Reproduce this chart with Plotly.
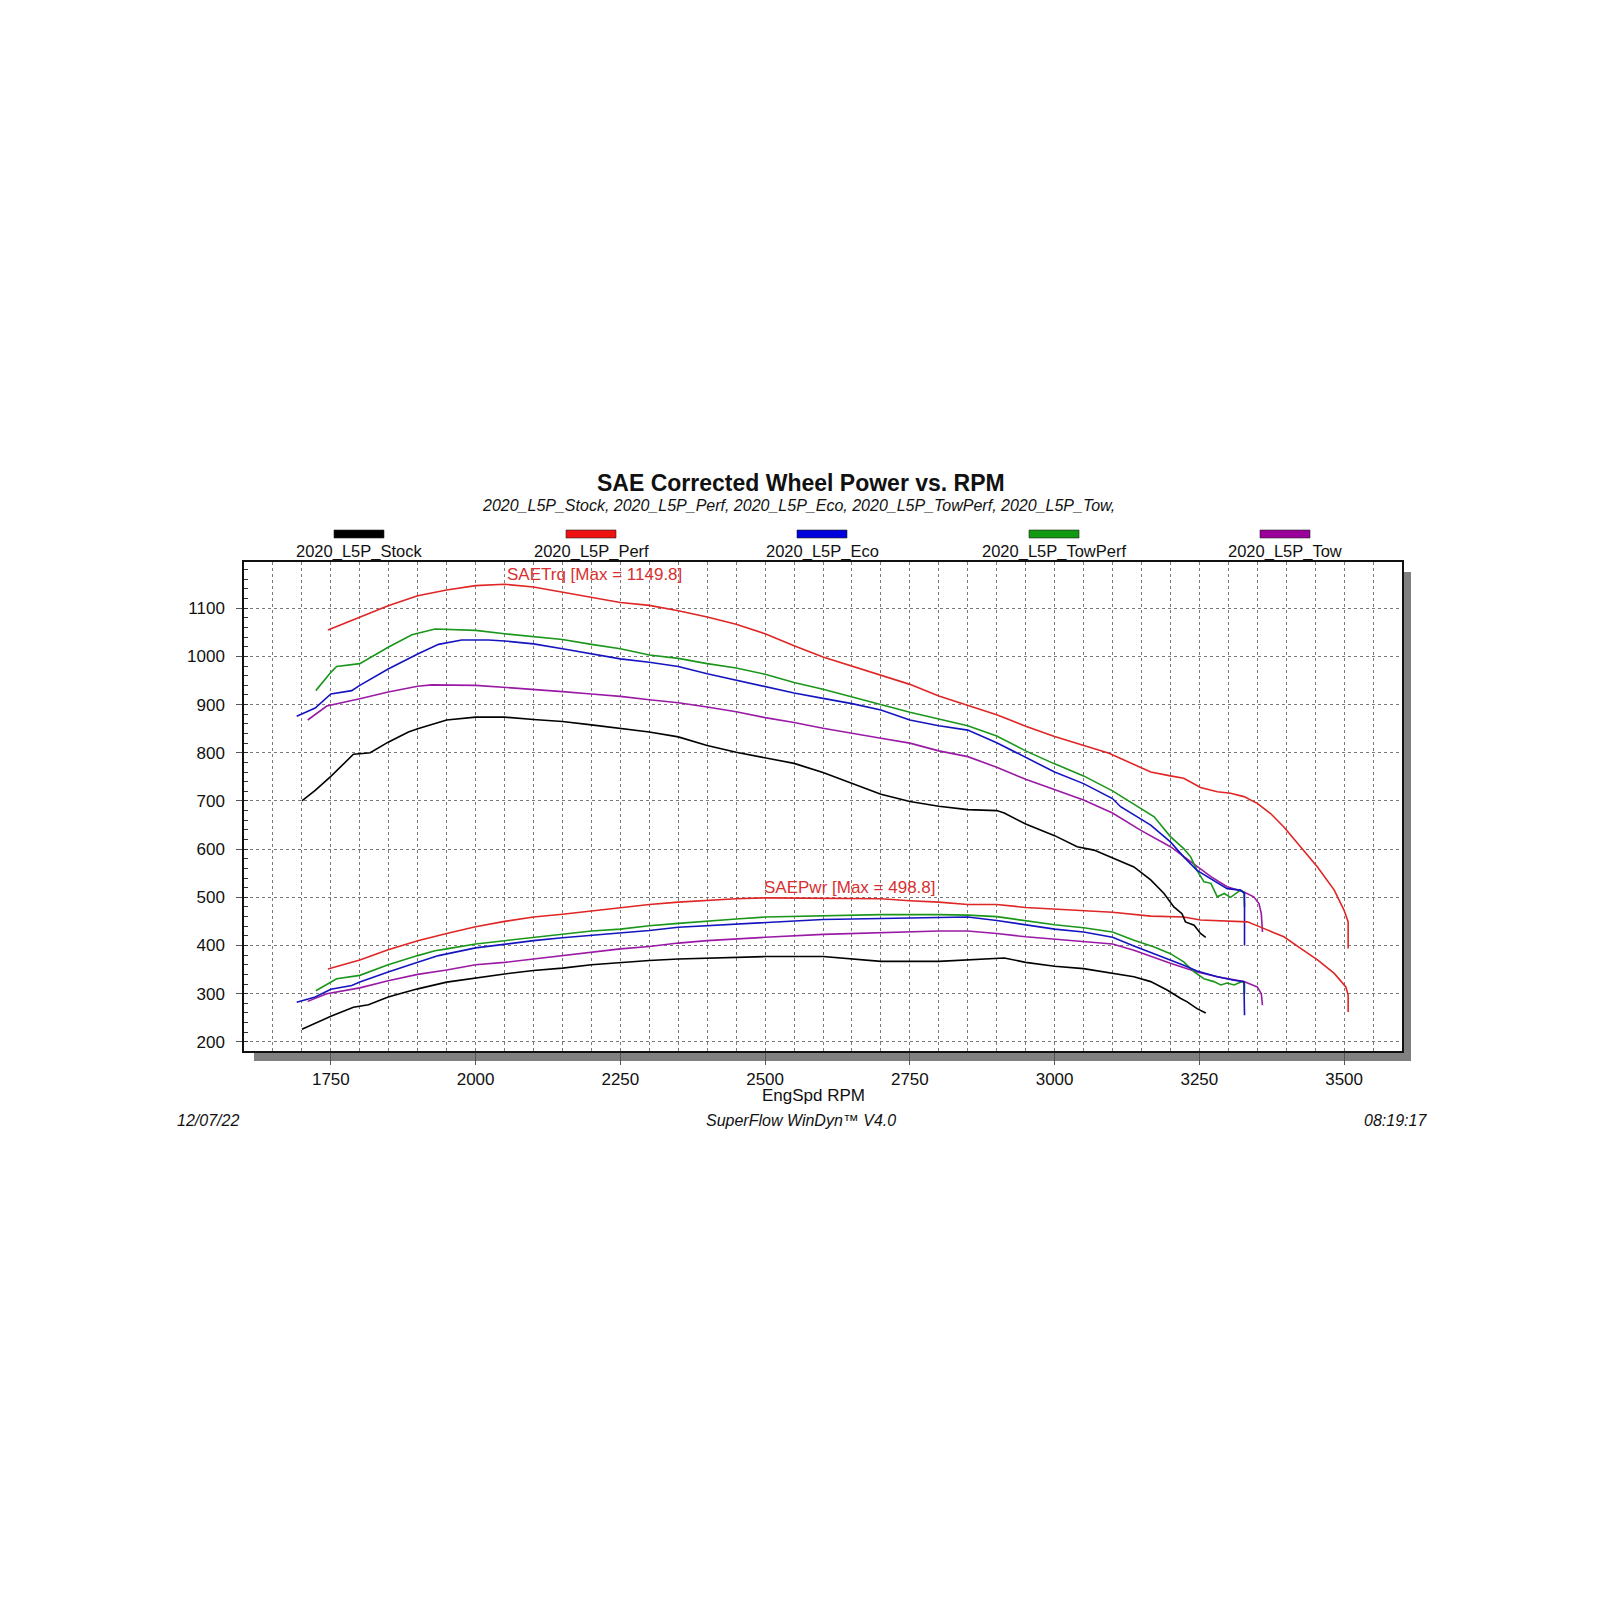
import plotly.graph_objects as go

# --- data (RPM vs SAE torque / power) ---
stock_trq_rpm = [1700, 1723, 1750, 1789, 1800, 1818, 1849, 1884, 1900, 1950, 2000, 2050, 2100, 2150, 2200,
                 2250, 2300, 2350, 2400, 2450, 2500, 2550, 2600, 2650, 2700, 2750, 2800, 2850, 2900, 2913,
                 2950, 3000, 3039, 3068, 3097, 3137, 3166, 3189, 3206, 3220, 3226, 3241, 3252, 3261]
stock_trq = [700, 722, 751, 797, 798, 800, 822, 843, 850, 868, 874, 874, 869, 865, 858,
             851, 843, 833, 815, 801, 790, 778, 759, 736, 714, 699, 689, 682, 680, 675,
             652, 628, 605, 598, 584, 563, 536, 508, 480, 466, 449, 442, 425, 417]
stock_pwr_rpm = [1700, 1750, 1789, 1815, 1849, 1900, 1950, 2000, 2050, 2100, 2150, 2200, 2250, 2300, 2350,
                 2400, 2450, 2500, 2600, 2650, 2700, 2800, 2850, 2913, 2950, 3000, 3050, 3085, 3137, 3166,
                 3195, 3218, 3229, 3246, 3261]
stock_pwr = [226, 253, 272, 277, 293, 310, 324, 333, 341, 348, 353, 360, 365, 369, 372,
             374, 376, 377, 377, 372, 367, 367, 370, 374, 365, 357, 352, 345, 335, 325,
             307, 290, 283, 269, 260]

perf_trq_rpm = [1745, 1798, 1849, 1900, 1950, 2000, 2050, 2100, 2150, 2200, 2250, 2300, 2350, 2400, 2450,
                2500, 2550, 2600, 2650, 2700, 2750, 2800, 2850, 2900, 2950, 3000, 3094, 3166, 3200, 3223,
                3252, 3281, 3304, 3327, 3350, 3373, 3396, 3425, 3454, 3483, 3500, 3507, 3507]
perf_trq = [1055, 1081, 1105, 1126, 1138, 1147, 1149.8, 1144, 1133, 1123, 1112, 1106, 1095, 1082, 1067,
            1047, 1022, 999, 980, 961, 942, 918, 898, 879, 855, 834, 799, 760, 752, 747,
            728, 719, 716, 709, 695, 674, 646, 605, 563, 515, 473, 449, 394]
perf_pwr_rpm = [1745, 1800, 1849, 1900, 1950, 2000, 2050, 2100, 2150, 2200, 2250, 2300, 2350, 2400, 2450,
                2500, 2600, 2700, 2750, 2800, 2850, 2900, 2950, 3000, 3050, 3100, 3166, 3223, 3252, 3304,
                3333, 3362, 3396, 3425, 3454, 3483, 3503, 3507, 3507]
perf_pwr = [351, 370, 391, 410, 425, 439, 450, 459, 465, 472, 479, 485, 490, 494, 497,
            498.8, 498, 497, 493, 490, 485, 485, 479, 476, 472, 469, 461, 459, 453, 451,
            449, 435, 418, 394, 370, 342, 314, 297, 262]

eco_trq_rpm = [1691, 1723, 1750, 1786, 1800, 1849, 1900, 1936, 1976, 2022, 2050, 2100, 2150, 2200, 2250,
               2300, 2350, 2400, 2450, 2500, 2550, 2600, 2650, 2700, 2750, 2800, 2850, 2900, 2950, 3000,
               3050, 3100, 3114, 3137, 3166, 3200, 3223, 3246, 3270, 3298, 3321, 3328, 3328]
eco_trq = [876, 893, 922, 929, 940, 974, 1005, 1025, 1034, 1034, 1032, 1026, 1016, 1005, 995,
           988, 979, 964, 951, 937, 924, 913, 902, 889, 868, 856, 847, 821, 790, 760,
           736, 705, 688, 671, 650, 615, 584, 556, 539, 518, 515, 508, 400]
eco_pwr_rpm = [1691, 1723, 1750, 1786, 1800, 1849, 1900, 1936, 2000, 2050, 2100, 2150, 2200, 2250, 2300,
               2350, 2400, 2450, 2500, 2600, 2700, 2800, 2850, 2900, 2950, 3000, 3050, 3100, 3137, 3172,
               3223, 3246, 3281, 3310, 3327, 3328]
eco_pwr = [282, 293, 309, 317, 324, 345, 365, 379, 395, 403, 410, 416, 421, 425, 431,
           438, 441, 445, 447, 454, 456, 457, 459, 452, 443, 434, 428, 417, 399, 383,
           359, 347, 335, 328, 325, 255]

towperf_trq_rpm = [1724, 1750, 1760, 1800, 1849, 1890, 1930, 1970, 2000, 2050, 2100, 2150, 2200, 2250, 2300,
                   2350, 2400, 2450, 2500, 2550, 2600, 2650, 2700, 2750, 2800, 2850, 2900, 2950, 3000, 3050,
                   3100, 3149, 3172, 3200, 3223, 3235, 3246, 3258, 3270, 3281, 3293, 3304, 3321, 3327, 3328]
towperf_trq = [929, 967, 979, 985, 1019, 1045, 1057, 1056, 1054, 1047, 1041, 1035, 1025, 1016, 1003,
               996, 985, 976, 963, 946, 932, 916, 901, 884, 870, 856, 835, 804, 777, 752,
               721, 684, 667, 626, 601, 584, 556, 532, 529, 501, 508, 500, 515, 511, 480]
towperf_pwr_rpm = [1724, 1760, 1800, 1849, 1900, 1930, 1950, 2000, 2050, 2100, 2150, 2200, 2250, 2300, 2350,
                   2400, 2450, 2500, 2600, 2700, 2800, 2850, 2900, 2950, 3000, 3050, 3100, 3137, 3172, 3200,
                   3223, 3241, 3258, 3275, 3287, 3298, 3310, 3324, 3328, 3328]
towperf_pwr = [306, 331, 338, 360, 379, 389, 393, 403, 410, 417, 424, 430, 434, 441, 446,
               451, 455, 459, 462, 464, 464, 463, 460, 452, 443, 437, 428, 411, 397, 383,
               366, 345, 331, 325, 318, 322, 318, 325, 322, 300]

tow_trq_rpm = [1710, 1743, 1800, 1849, 1900, 1924, 2000, 2050, 2100, 2150, 2200, 2250, 2300, 2350, 2400,
               2450, 2500, 2550, 2600, 2650, 2700, 2750, 2800, 2850, 2900, 2950, 3000, 3050, 3100, 3149,
               3200, 3246, 3270, 3298, 3327, 3344, 3353, 3357, 3359]
tow_trq = [868, 897, 912, 926, 938, 941, 940, 936, 931, 927, 922, 917, 910, 904, 895,
           885, 873, 863, 851, 840, 830, 820, 804, 792, 770, 745, 724, 702, 675, 639,
           605, 563, 543, 522, 511, 501, 487, 466, 428]
tow_pwr_rpm = [1710, 1743, 1800, 1849, 1900, 1950, 2000, 2050, 2100, 2150, 2200, 2250, 2300, 2350, 2400,
               2450, 2500, 2600, 2700, 2800, 2850, 2900, 2950, 3000, 3050, 3100, 3137, 3200, 3246, 3281,
               3327, 3350, 3357, 3359]
tow_pwr = [284, 300, 312, 327, 340, 349, 360, 365, 372, 379, 387, 393, 398, 405, 410,
           414, 417, 423, 427, 430, 430, 425, 418, 413, 408, 403, 390, 363, 345, 335,
           325, 314, 300, 276]

run_names = ["2020_L5P_Stock", "2020_L5P_Perf", "2020_L5P_Eco", "2020_L5P_TowPerf", "2020_L5P_Tow"]
line_colors = ["#000000", "#e02525", "#1515c0", "#1a961a", "#9a1aa6"]
bar_colors = ["#000000", "#ee1111", "#0000dd", "#119911", "#990099"]

runs = [
    (stock_trq_rpm, stock_trq, stock_pwr_rpm, stock_pwr),
    (perf_trq_rpm, perf_trq, perf_pwr_rpm, perf_pwr),
    (eco_trq_rpm, eco_trq, eco_pwr_rpm, eco_pwr),
    (towperf_trq_rpm, towperf_trq, towperf_pwr_rpm, towperf_pwr),
    (tow_trq_rpm, tow_trq, tow_pwr_rpm, tow_pwr),
]

FONT = "Liberation Sans, Arial, sans-serif"

# page geometry (pixels); everything was measured then nudged by DX/DY
DX, DY = -7, -8
L, R, T, B = 243 + DX, 1401 + DX, 562 + DY, 1051 + DY
PW, PH = R - L, B - T


def px(x):
    return (x + DX - L) / PW


def py(y):
    return (B - (y + DY)) / PH


fig = go.Figure()

# stock drawn last so it sits on top
for i in [4, 3, 2, 1, 0]:
    trq_rpm, trq, pwr_rpm, pwr = runs[i]
    fig.add_trace(go.Scatter(x=trq_rpm, y=trq, mode="lines", name=run_names[i] + " SAETrq",
                             line=dict(color=line_colors[i], width=1.6), showlegend=False))
    fig.add_trace(go.Scatter(x=pwr_rpm, y=pwr, mode="lines", name=run_names[i] + " SAEPwr",
                             line=dict(color=line_colors[i], width=1.6), showlegend=False))

shapes = [
    # drop shadow, then white plot box on top of it
    dict(type="rect", xref="paper", yref="paper", x0=10 / PW, x1=1 + 9 / PW, y0=-10 / PH, y1=1 - 10 / PH,
         fillcolor="#808080", line=dict(width=0), layer="below"),
    dict(type="rect", xref="paper", yref="paper", x0=0, x1=1, y0=0, y1=1,
         fillcolor="white", line=dict(width=0), layer="below"),
]

legend_x = [358, 590, 821, 1053, 1284]
annotations = []
for i, name in enumerate(run_names):
    cx = legend_x[i]
    shapes.append(dict(type="rect", xref="paper", yref="paper", x0=px(cx - 25), x1=px(cx + 25),
                       y0=py(538), y1=py(530), fillcolor=bar_colors[i],
                       line=dict(color="#222222", width=0.6)))
    annotations.append(dict(text=name, xref="paper", yref="paper", x=px(cx), y=py(551),
                            xanchor="center", yanchor="middle", showarrow=False,
                            font=dict(family=FONT, size=16.5, color="#111111")))

annotations += [
    dict(text="<b>SAE Corrected Wheel Power vs. RPM</b>", xref="paper", yref="paper",
         x=px(800), y=py(483), xanchor="center", yanchor="middle", showarrow=False,
         font=dict(family=FONT, size=23, color="#111111")),
    dict(text="<i>2020_L5P_Stock, 2020_L5P_Perf, 2020_L5P_Eco, 2020_L5P_TowPerf, 2020_L5P_Tow,</i>",
         xref="paper", yref="paper", x=px(797), y=py(505), xanchor="center", yanchor="middle",
         showarrow=False, font=dict(family=FONT, size=16, color="#111111")),
    dict(text="SAETrq [Max = 1149.8]", xref="paper", yref="paper", x=px(593), y=py(574),
         xanchor="center", yanchor="middle", showarrow=False,
         font=dict(family=FONT, size=17, color="#d83030")),
    dict(text="SAEPwr [Max = 498.8]", xref="paper", yref="paper", x=px(849), y=py(887),
         xanchor="center", yanchor="middle", showarrow=False,
         font=dict(family=FONT, size=17, color="#d83030")),
    dict(text="EngSpd RPM", xref="paper", yref="paper", x=px(812), y=py(1095),
         xanchor="center", yanchor="middle", showarrow=False,
         font=dict(family=FONT, size=17, color="#111111")),
    dict(text="<i>12/07/22</i>", xref="paper", yref="paper", x=px(207), y=py(1120),
         xanchor="center", yanchor="middle", showarrow=False,
         font=dict(family=FONT, size=16, color="#111111")),
    dict(text="<i>SuperFlow WinDyn™ V4.0</i>", xref="paper", yref="paper", x=px(800), y=py(1120),
         xanchor="center", yanchor="middle", showarrow=False,
         font=dict(family=FONT, size=16, color="#111111")),
    dict(text="<i>08:19:17</i>", xref="paper", yref="paper", x=px(1394), y=py(1120),
         xanchor="center", yanchor="middle", showarrow=False,
         font=dict(family=FONT, size=16, color="#111111")),
]

grid = dict(gridcolor="#7a7a7a", griddash="dot", gridwidth=1)

fig.update_layout(
    width=1600, height=1600, autosize=False,
    margin=dict(l=L, r=1600 - R, t=T, b=1600 - B, pad=0),
    paper_bgcolor="white", plot_bgcolor="white",
    showlegend=False,
    shapes=shapes, annotations=annotations,
    font=dict(family=FONT, size=16, color="#111111"),
    xaxis=dict(range=[1600, 3600], tickmode="linear", tick0=1750, dtick=250,
               showgrid=True, **grid, zeroline=False,
               ticks="outside", ticklen=12, tickcolor="#555555", tickwidth=1,
               showline=True, mirror=True, linecolor="#111111", linewidth=1.5,
               tickfont=dict(family=FONT, size=17, color="#111111"),
               minor=dict(dtick=50, tick0=1600, showgrid=True, gridcolor="#7a7a7a",
                          griddash="dot", gridwidth=1, ticks="")),
    yaxis=dict(range=[181, 1196], tickmode="linear", tick0=200, dtick=100,
               showgrid=True, **grid, zeroline=False,
               ticks="outside", ticklen=6, tickcolor="#555555", tickwidth=1,
               ticklabelstandoff=8,
               showline=True, mirror=True, linecolor="#111111", linewidth=1.5,
               tickfont=dict(family=FONT, size=17, color="#111111"),
               minor=dict(dtick=20, tick0=200, ticks="inside", ticklen=4,
                          tickcolor="#333333", showgrid=False)),
)

fig.write_html("out.html")
